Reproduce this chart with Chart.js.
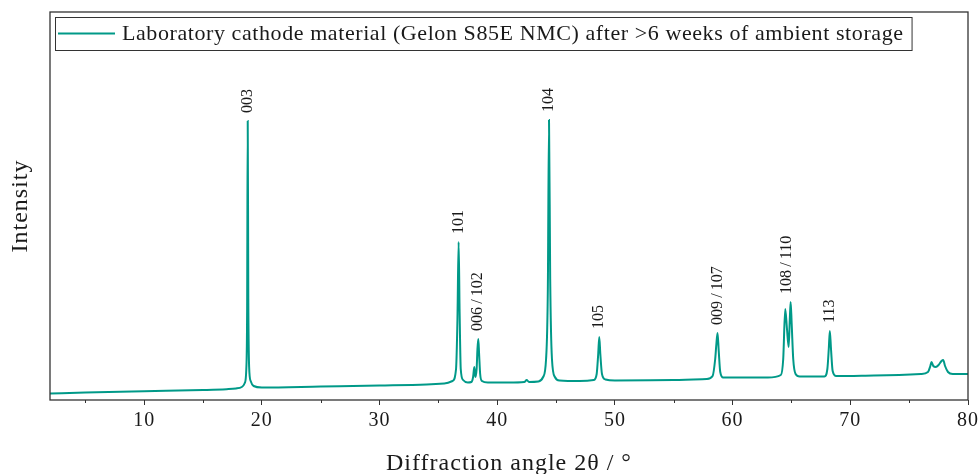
<!DOCTYPE html>
<html>
<head>
<meta charset="utf-8">
<script src="https://cdn.jsdelivr.net/npm/chart.js@4/dist/chart.umd.min.js"></script>
<style>
html,body{margin:0;padding:0;background:#fff;}
#wrap{width:978px;height:474px;position:relative;}
</style>
</head>
<body>
<div id="wrap"><canvas id="c" width="978" height="474"></canvas></div>
<script>
// ---- data ----
const seriesLabel = 'Laboratory cathode material (Gelon S85E NMC) after >6 weeks of ambient storage';
const twoTheta = [
  2.0, 5, 10, 15, 17, 17.8, 18.3, 18.55, 18.68, 18.75, 18.80, 18.85, 18.92, 19.05, 19.3, 20,
  25, 30, 34, 35.5, 36.2, 36.5, 36.62, 36.72, 36.80, 36.9, 37.1, 37.5,
  37.8, 37.95, 38.05, 38.14, 38.25, 38.32, 38.39, 38.46, 38.55, 38.7, 39.2, 41,
  42.3, 42.5, 42.7, 43.5, 43.9, 44.15, 44.3, 44.4, 44.5, 44.65, 44.9, 45.3,
  47, 48.2, 48.45, 48.58, 48.67, 48.76, 48.9, 49.2, 50, 55,
  57.8, 58.3, 58.52, 58.62, 58.72, 58.82, 58.95, 59.2, 63,
  64.1, 64.3, 64.47, 64.62, 64.76, 64.86, 64.93, 65.02, 65.15, 65.35, 65.7,
  67.8, 68.05, 68.17, 68.26, 68.36, 68.5, 68.8, 72,
  76, 76.6, 76.8, 76.9, 77.05, 77.27, 77.5, 77.75, 77.89, 78.05, 78.3, 78.7, 80
];
const intensity = [
  5.5, 6.5, 7.8, 9.0, 9.8, 10.5, 12, 16, 30, 90, 278, 100, 32, 18, 13, 11.5,
  12.5, 13.5, 14.5, 15.5, 18, 30, 80, 157, 90, 30, 19, 16.5,
  17, 22, 32, 22, 30, 50, 60, 45, 25, 18, 16.5, 16.5,
  17, 19, 17, 17.5, 22, 40, 110, 279, 120, 40, 22, 18.5,
  18, 19, 25, 45, 62, 45, 25, 19.5, 18.5, 19,
  20, 23, 40, 55, 66, 48, 27, 21.5, 21.5,
  24, 40, 90, 70, 52, 80, 97, 75, 40, 25, 22.5,
  22.5, 30, 50, 68, 50, 28, 23, 23.5,
  25, 27, 33, 37, 33, 32, 34, 38, 39, 33, 27, 25, 25
];
const peakLabels = ['003', '101', '006\u2009/\u2009102', '104', '105', '009\u2009/\u2009107', '108\u2009/\u2009110', '113'];
const peakPos    = [18.80, 36.72, 38.39, 44.40, 48.67, 58.72, 64.6, 68.26];
const peakTop    = [278, 157, 60, 279, 62, 66, 97, 68];
const xTicks = [10, 20, 30, 40, 50, 60, 70, 80];
const xMinorTicks = [5, 15, 25, 35, 45, 55, 65, 75];
const xTitle = 'Diffraction angle 2\u03b8 / \u00b0';
const yTitle = 'Intensity';

const SERIF = "'Liberation Serif', 'DejaVu Serif', serif";
const TEXT = '#1a1a1a';
const FRAME = '#333333';
const LINE = '#009988';

const decorPlugin = {
  id: 'decor',
  beforeDraw(chart) {
    try { chart.ctx.letterSpacing = '1px'; } catch (e) {}
  },
  beforeDatasetsDraw(chart) {
    try { chart.ctx.letterSpacing = '0px'; } catch (e) {}
  },
  afterDraw(chart) {
    const {ctx, chartArea: a, scales: {x, y}} = chart;
    ctx.save();
    try { ctx.letterSpacing = '0px'; } catch (e) {}
    // frame
    ctx.strokeStyle = FRAME;
    ctx.lineWidth = 1.3;
    ctx.strokeRect(a.left, a.top, a.right - a.left, a.bottom - a.top);
    // minor ticks
    ctx.lineWidth = 1;
    ctx.beginPath();
    xMinorTicks.forEach(v => {
      const px = Math.round(x.getPixelForValue(v)) + 0.5;
      ctx.moveTo(px, a.bottom);
      ctx.lineTo(px, a.bottom + 3);
    });
    ctx.stroke();
    // peak labels
    ctx.fillStyle = TEXT;
    ctx.font = '16px ' + SERIF;
    ctx.textAlign = 'left';
    ctx.textBaseline = 'middle';
    peakLabels.forEach((t, i) => {
      const px = x.getPixelForValue(peakPos[i]);
      const py = y.getPixelForValue(peakTop[i]) - 8;
      ctx.save();
      ctx.translate(px, py);
      ctx.rotate(-Math.PI / 2);
      ctx.fillText(t, 0, 0);
      ctx.restore();
    });
    // legend
    const lx = a.left + 5, ly = a.top + 5;
    ctx.font = '22px ' + SERIF;
    try { ctx.letterSpacing = '0.58px'; } catch (e) {}
    const tw = ctx.measureText(chart.data.datasets[0].label).width;
    const bw = 67 + tw + 8, bh = 33;
    ctx.strokeStyle = FRAME;
    ctx.lineWidth = 1;
    ctx.strokeRect(lx + 0.5, ly + 0.5, bw, bh);
    ctx.strokeStyle = LINE;
    ctx.lineWidth = 2;
    ctx.beginPath();
    ctx.moveTo(lx + 3, ly + 16.5);
    ctx.lineTo(lx + 60, ly + 16.5);
    ctx.stroke();
    ctx.fillStyle = TEXT;
    ctx.textBaseline = 'middle';
    ctx.fillText(chart.data.datasets[0].label, lx + 67, ly + 17.5);
    ctx.restore();
  }
};

new Chart(document.getElementById('c'), {
  type: 'line',
  data: {
    datasets: [{
      label: seriesLabel,
      data: twoTheta.map((v, i) => ({x: v, y: intensity[i]})),
      borderColor: LINE,
      backgroundColor: LINE,
      borderWidth: 2,
      pointRadius: 0,
      cubicInterpolationMode: 'monotone',
      fill: false
    }]
  },
  options: {
    responsive: false,
    animation: false,
    layout: {padding: {left: 9, right: 10, top: 12, bottom: 0}},
    plugins: {legend: {display: false}, tooltip: {enabled: false}},
    scales: {
      x: {
        type: 'linear',
        min: 2, max: 80,
        afterBuildTicks: s => { s.ticks = xTicks.map(v => ({value: v})); },
        afterFit: s => { s.paddingRight = 0; s.paddingLeft = 0; },
        grid: {display: true, drawOnChartArea: false, drawTicks: true, tickLength: 5, color: FRAME, tickWidth: 1},
        border: {display: false},
        ticks: {color: TEXT, font: {family: SERIF, size: 20}, padding: 4, maxRotation: 0, autoSkip: false},
        title: {display: true, text: xTitle, color: TEXT, font: {family: SERIF, size: 24, lineHeight: 1}, padding: {top: 15, bottom: -2}}
      },
      y: {
        type: 'linear',
        min: -1, max: 387,
        grid: {display: false},
        border: {display: false},
        ticks: {display: false},
        title: {display: true, text: yTitle, color: TEXT, font: {family: SERIF, size: 24, lineHeight: 1}, padding: {top: 0, bottom: 9}}
      }
    }
  },
  plugins: [decorPlugin]
});
</script>
</body>
</html>
